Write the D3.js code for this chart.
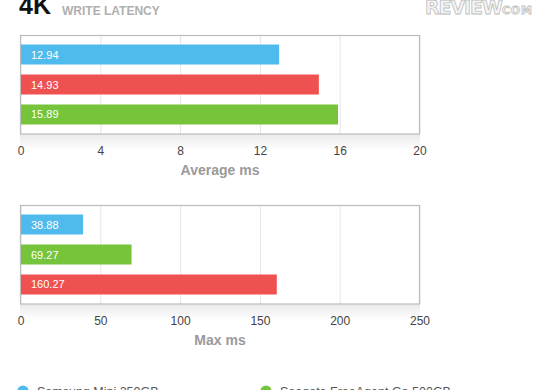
<!DOCTYPE html>
<html>
<head>
<meta charset="utf-8">
<script src="https://cdn.jsdelivr.net/npm/d3@7"></script>
<style>
  body { margin: 0; background: #fff; }
  svg { font-family: "Liberation Sans", Arial, sans-serif; display: block; }
  .grid line { stroke: #e6e6e6; }
  .grid text { fill: #444; font-size: 12px; }
  .grid .domain { display: none; }
</style>
</head>
<body>
<div id="chart"></div>
<script>
// drives, in legend order
var drives = ["Samsung Mini 250GB", "Seagate FreeAgent Go 500GB", "Third drive"];
var driveColors = ["#4fbbec", "#75c43a", "#ef5151"];

// Average ms (sorted ascending, as drawn)
var avgDrives = ["Samsung Mini 250GB", "Third drive", "Seagate FreeAgent Go 500GB"];
var avgValues = [12.94, 14.93, 15.89];
var avgTicks = [0, 4, 8, 12, 16, 20];

// Max ms
var maxDrives = ["Samsung Mini 250GB", "Seagate FreeAgent Go 500GB", "Third drive"];
var maxValues = [38.88, 69.27, 160.27];
var maxTicks = [0, 50, 100, 150, 200, 250];

var w = 560, h = 390;
var svg = d3.select("#chart").append("svg").attr("width", w).attr("height", h);

var color = d3.scaleOrdinal().domain(drives).range(driveColors);

// shadow gradient under each plot box
var defs = svg.append("defs");
var grad = defs.append("linearGradient").attr("id", "shade")
  .attr("x1", 0).attr("y1", 0).attr("x2", 0).attr("y2", 1);
grad.append("stop").attr("offset", "0%").attr("stop-color", "#e9e9e9");
grad.append("stop").attr("offset", "100%").attr("stop-color", "#fff");

// title
svg.append("text").attr("x", 19).attr("y", 14)
  .style("font-size", "25px").style("font-weight", "bold").style("fill", "#111")
  .text("4K");
svg.append("text").attr("x", 62).attr("y", 15)
  .style("font-size", "12px").style("font-weight", "bold").style("fill", "#b0b0b0")
  .text("WRITE LATENCY");

// logo
var logo = svg.append("text").attr("x", 425).attr("y", 14)
  .style("font-family", "'DejaVu Sans', sans-serif").style("font-weight", "bold")
  .style("fill", "#f4f4f4").style("stroke", "#bdbdbd").style("stroke-width", 0.8);
logo.append("tspan").style("font-size", "19px").attr("textLength", 78).text("REVIEW");
logo.append("tspan").style("font-size", "11px").attr("textLength", 30).text("COM");

function panel(top, names, values, ticks, label) {
  var x = d3.scaleLinear().domain([0, ticks[ticks.length - 1]]).range([20.5, 419.5]);
  var y = d3.scaleBand().domain(names).range([top, top + 99]).paddingInner(1 / 3).paddingOuter(0.317);
  var g = svg.append("g");

  g.append("rect").attr("x", 20).attr("y", top + 99).attr("width", 400).attr("height", 16)
    .style("fill", "url(#shade)");
  g.append("rect").attr("x", 20.5).attr("y", top + 0.5).attr("width", 399).attr("height", 98.5)
    .style("fill", "#fff");

  var axis = d3.axisBottom(x).tickValues(ticks).tickSizeInner(-99).tickSizeOuter(0).tickPadding(12);
  g.append("g").attr("class", "grid")
    .attr("transform", "translate(0," + (top + 99) + ")")
    .call(axis);

  g.append("rect").attr("x", 20.5).attr("y", top + 0.5).attr("width", 399).attr("height", 98.5)
    .style("fill", "none").style("stroke", "#bcbcbc").style("stroke-width", 1.2);

  g.selectAll(".bar").data(values).enter().append("rect")
    .attr("x", x(0) + 0.5)
    .attr("y", function(d, i) { return y(names[i]); })
    .attr("width", function(d) { return x(d) - x(0); })
    .attr("height", y.bandwidth())
    .style("fill", function(d, i) { return color(names[i]); });

  g.selectAll(".lbl").data(values).enter().append("text")
    .attr("x", 31)
    .attr("y", function(d, i) { return y(names[i]) + y.bandwidth() / 2 + 4; })
    .style("fill", "#fff").style("font-size", "11px")
    .text(function(d) { return d3.format(".2f")(d); });

  g.append("text").attr("x", 220).attr("y", top + 140)
    .attr("text-anchor", "middle")
    .style("font-size", "14px").style("font-weight", "bold").style("fill", "#9a9a9a")
    .text(label);
}

panel(35, avgDrives, avgValues, avgTicks, "Average ms");
panel(205, maxDrives, maxValues, maxTicks, "Max ms");

// legend (two visible entries)
var legend = svg.selectAll(".leg").data(drives.slice(0, 2)).enter().append("g")
  .attr("transform", function(d, i) { return "translate(" + (23 + i * 243) + ",391)"; });
legend.append("circle").attr("r", 5.5).style("fill", function(d) { return color(d); });
legend.append("text").attr("x", 14).attr("y", 4.5)
  .style("font-size", "12.5px").style("fill", "#555")
  .text(function(d) { return d; });
</script>
</body>
</html>
